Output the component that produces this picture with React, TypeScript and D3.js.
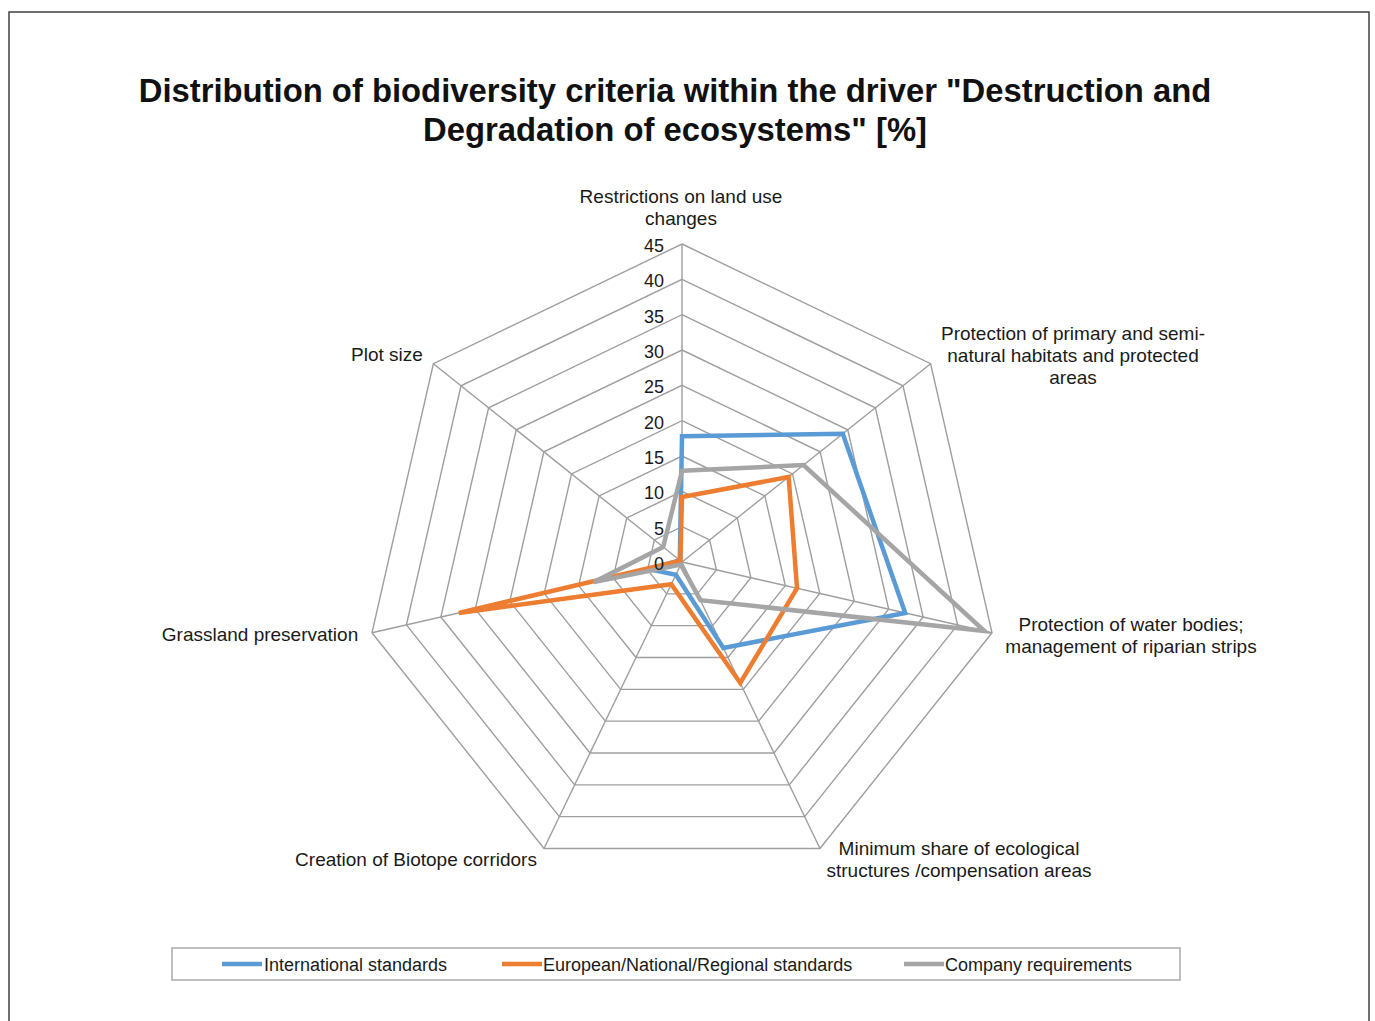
import React from "react";
import * as d3 from "d3";

const title1 = 'Distribution of biodiversity criteria within the driver "Destruction and';
const title2 = 'Degradation of ecosystems" [%]';

const axisLabels: string[][] = [
  ["Restrictions on land use", "changes"],
  ["Protection of primary and semi-", "natural habitats and protected", "areas"],
  ["Protection of water bodies;", "management of riparian strips"],
  ["Minimum share of ecological", "structures /compensation areas"],
  ["Creation of Biotope corridors"],
  ["Grassland preservation"],
  ["Plot size"],
];

const tickValues = [0, 5, 10, 15, 20, 25, 30, 35, 40, 45];

const seriesNames = [
  "International standards",
  "European/National/Regional standards",
  "Company requirements",
];
const international = [17.8, 29.1, 32.4, 13.5, 2.0, 4.7, 0.4];
const european = [9.2, 19.3, 16.7, 19.0, 3.5, 32.4, 0.3];
const company = [12.9, 22.0, 43.9, 6.0, 0.4, 12.8, 3.4];
const seriesValues = [international, european, company];
const seriesColors = ["#5B9BD5", "#ED7D31", "#A5A5A5"];

const labelPos: [number, number][] = [
  [681, 203],
  [1073, 340],
  [1131, 631],
  [959, 855],
  [416, 866],
  [260, 641],
  [387, 361],
];

export default function App() {
  const W = 1375;
  const H = 1021;
  const cx = 682;
  const cy = 562;
  const R = 318;
  const n = axisLabels.length;
  const r = d3.scaleLinear().domain([0, 45]).range([0, R]);
  const angle = (i: number) => (i * 2 * Math.PI) / n;
  const pt = (i: number, v: number): [number, number] => [
    cx + r(v) * Math.sin(angle(i)),
    cy - r(v) * Math.cos(angle(i)),
  ];

  const radial = d3
    .lineRadial<number>()
    .angle((_, i) => angle(i))
    .radius((d) => r(d))
    .curve(d3.curveLinearClosed);

  const gridColor = "#9e9e9e";
  const font = "'Liberation Sans', Arial, sans-serif";
  const textColor = "#1a1a1a";

  const legendItems = [
    { x: 222, tx: 264 },
    { x: 502, tx: 543 },
    { x: 904, tx: 945 },
  ];

  return (
    <svg
      width={W}
      height={H}
      style={{ position: "absolute", left: 0, top: 0, background: "#fff" }}
      fontFamily={font}
    >
      <rect x={0} y={0} width={W} height={H} fill="#fff" />
      <rect x={9} y={12} width={1360} height={1040} fill="none" stroke="#4d4d4d" strokeWidth={1.6} />

      <text x={675} y={102} textAnchor="middle" fontSize={32.8} fontWeight="bold" fill="#111">
        {title1}
      </text>
      <text x={675} y={141} textAnchor="middle" fontSize={32.8} fontWeight="bold" fill="#111">
        {title2}
      </text>

      <g transform={`translate(${cx},${cy})`}>
        {tickValues.slice(1).map((t) => (
          <path
            key={t}
            d={radial(new Array(n).fill(t)) || ""}
            fill="none"
            stroke={gridColor}
            strokeWidth={1.4}
          />
        ))}
      </g>
      {axisLabels.map((_, i) => {
        const [x2, y2] = pt(i, 45);
        return <line key={i} x1={cx} y1={cy} x2={x2} y2={y2} stroke={gridColor} strokeWidth={1.4} />;
      })}

      <g transform={`translate(${cx},${cy})`}>
        {seriesValues.map((vals, s) => (
          <path
            key={s}
            d={radial(vals) || ""}
            fill="none"
            stroke={seriesColors[s]}
            strokeWidth={4.5}
            strokeLinejoin="miter"
          />
        ))}
      </g>

      {tickValues.map((t) => (
        <text key={t} x={664} y={cy - r(t) + 8} textAnchor="end" fontSize={18} fill={textColor}>
          {t}
        </text>
      ))}

      {axisLabels.map((lines, i) => (
        <text key={i} textAnchor="middle" fontSize={19} fill={textColor}>
          {lines.map((ln, j) => (
            <tspan key={j} x={labelPos[i][0]} y={labelPos[i][1] + j * 22}>
              {ln}
            </tspan>
          ))}
        </text>
      ))}

      <rect x={172} y={948} width={1008} height={32} fill="#fff" stroke="#b0b0b0" strokeWidth={1.6} />
      {seriesNames.map((name, s) => (
        <g key={s}>
          <line
            x1={legendItems[s].x}
            x2={legendItems[s].x + 40}
            y1={964}
            y2={964}
            stroke={seriesColors[s]}
            strokeWidth={4.5}
          />
          <text x={legendItems[s].tx} y={971} fontSize={18} fill={textColor}>
            {name}
          </text>
        </g>
      ))}
    </svg>
  );
}
